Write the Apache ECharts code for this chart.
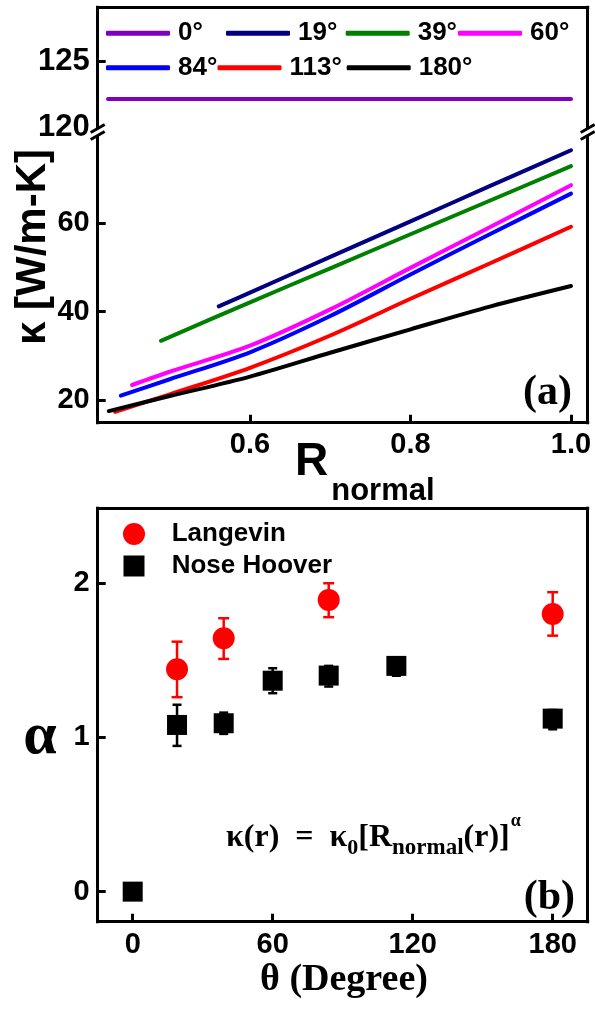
<!DOCTYPE html>
<html><head><meta charset="utf-8">
<script src="https://cdn.jsdelivr.net/npm/echarts@6/dist/echarts.min.js"></script>
<style>html,body{margin:0;padding:0;background:#fff}#c{width:595px;height:1009px}</style>
</head><body><div id="c"></div>
<script>
// ---------------- data ----------------
const angleNames = ['0°','19°','39°','60°','84°','113°','180°'];
const lineColors = ['#7f00bf','#000080','#008000','#ff00ff','#0000ff','#ff0000','#000000'];
// kappa vs R_normal  ([R, kappa])
const kappa0   = [[0.423,122.15],[1.0,122.15]];
const kappa19  = [[0.561,41.2],[0.6,44.3],[0.7,52.4],[0.8,60.4],[0.9,68.5],[1.0,76.5]];
const kappa39  = [[0.489,33.4],[0.6,42.1],[0.7,49.8],[0.8,57.5],[0.9,65.2],[1.0,72.9]];
const kappa60  = [[0.453,23.4],[0.5,26.4],[0.6,32.3],[0.7,40.5],[0.8,49.9],[0.9,59.2],[1.0,68.6]];
const kappa84  = [[0.439,21.0],[0.5,24.7],[0.6,30.8],[0.7,39.0],[0.8,48.4],[0.9,57.6],[1.0,66.7]];
const kappa113 = [[0.432,17.3],[0.5,21.3],[0.6,27.3],[0.7,34.6],[0.8,42.9],[0.9,51.0],[1.0,59.2]];
const kappa180 = [[0.424,17.5],[0.5,20.9],[0.6,25.3],[0.7,30.7],[0.8,36.0],[0.9,41.2],[1.0,45.8]];
const kappaSeries = [kappa0,kappa19,kappa39,kappa60,kappa84,kappa113,kappa180];

// alpha vs theta
const thetaLangevin   = [19, 39, 84, 180];
const alphaLangevin   = [1.442, 1.643, 1.892, 1.801];
const alphaLangevinLo = [1.261, 1.509, 1.780, 1.660];
const alphaLangevinHi = [1.621, 1.773, 2.000, 1.942];
const thetaNH   = [0, 19, 39, 60, 84, 113, 180];
const alphaNH   = [0, 1.081, 1.092, 1.368, 1.401, 1.464, 1.122];
const alphaNHLo = [0, 0.945, 1.023, 1.287, 1.330, 1.400, 1.053];
const alphaNHHi = [0, 1.212, 1.161, 1.449, 1.464, 1.520, 1.178];

// tick labels
const xTicksTop    = [0.6, 0.8, 1.0];
const yTicksUpper  = [120, 125];
const yTicksLower  = [20, 40, 60];
const xTicksBottom = [0, 60, 120, 180];
const yTicksBottom = [0, 1, 2];

// ---------------- helpers ----------------
const SANS = '"Liberation Sans", Arial, sans-serif';
const SERIF = '"Liberation Serif", "Times New Roman", serif';
const mctx = document.createElement('canvas').getContext('2d');
function tw(text, font){ mctx.font = font; return mctx.measureText(text).width; }
function runText(x0, pieces, family){
  const out = []; let x = x0;
  pieces.forEach(p => {
    const font = 'bold ' + p.size + 'px ' + family;
    out.push({type:'text', z:50, style:{text:p.t, x:x, y:p.base - 0.34*p.size, font:font, fill:'#000',
      textAlign:'left', textVerticalAlign:'middle', verticalAlign:'middle', lineHeight:p.size}});
    x += tw(p.t, font) + (p.gap || 0);
  });
  return out;
}
const AX = {onZero:false, lineStyle:{color:'#000', width:3, cap:'square'}};
function lab(size, fmt, vals){
  return {show:true, customValues:vals, formatter:fmt, color:'#000', fontFamily:SANS, fontWeight:'bold',
          fontSize:size, lineHeight:size, margin:8};
}
function tick(vals){ return {show:true, inside:true, length:8, customValues:vals, lineStyle:{color:'#000', width:3}}; }
const NOAX = {axisTick:{show:false}, axisLabel:{show:false}, splitLine:{show:false}};

const gL = 97.7, gW = 490;
const R_MIN = 0.4102, R_MAX = 1.0208;

// ---------------- axes ----------------
const xAxis = [
  Object.assign({type:'value', gridIndex:0, min:R_MIN, max:R_MAX, position:'top', axisLine:AX}, NOAX),
  {type:'value', gridIndex:1, min:R_MIN, max:R_MAX, position:'bottom', axisLine:AX,
   axisTick:tick(xTicksTop), axisLabel:lab(29, v => v.toFixed(1), xTicksTop), splitLine:{show:false}},
  {type:'value', gridIndex:2, min:-15, max:195, position:'bottom', axisLine:AX,
   axisTick:tick(xTicksBottom), axisLabel:Object.assign(lab(29, v => String(v), xTicksBottom), {margin:9}), splitLine:{show:false}},
  Object.assign({type:'value', gridIndex:2, min:-15, max:195, position:'top', axisLine:AX}, NOAX)
];
const yAxis = [
  {type:'value', gridIndex:0, min:119.69, max:129.17, position:'left', axisLine:AX,
   axisTick:tick([125]), axisLabel:lab(31, v => String(v), yTicksUpper), splitLine:{show:false}},
  Object.assign({type:'value', gridIndex:0, min:119.69, max:129.17, position:'right', axisLine:AX}, NOAX),
  {type:'value', gridIndex:1, min:14.87, max:80.86, position:'left', axisLine:AX,
   axisTick:tick(yTicksLower), axisLabel:lab(29, v => String(v), yTicksLower), splitLine:{show:false}},
  Object.assign({type:'value', gridIndex:1, min:14.87, max:80.86, position:'right', axisLine:AX}, NOAX),
  {type:'value', gridIndex:2, min:-0.195, max:2.486, position:'left', axisLine:AX,
   axisTick:tick(yTicksBottom), axisLabel:lab(29, v => String(v), yTicksBottom), splitLine:{show:false}},
  Object.assign({type:'value', gridIndex:2, min:-0.195, max:2.486, position:'right', axisLine:AX}, NOAX)
];

// ---------------- series ----------------
const series = [];
kappaSeries.forEach((d, i) => {
  series.push({type:'line', name:angleNames[i], xAxisIndex:i===0?0:1, yAxisIndex:i===0?0:2, data:d,
    showSymbol:false, symbol:'none', smooth:0.3, color:lineColors[i],
    lineStyle:{color:lineColors[i], width:4, cap:'round', join:'round'}, z:5});
});
function errRender(capW, color){
  return function(params, api){
    const x = api.value(0), lo = api.value(1), hi = api.value(2);
    const a = api.coord([x, lo]), b = api.coord([x, hi]);
    const st = {stroke:color, lineWidth:2.5};
    return {type:'group', children:[
      {type:'line', shape:{x1:a[0], y1:a[1], x2:b[0], y2:b[1]}, style:st},
      {type:'line', shape:{x1:b[0]-capW/2, y1:b[1], x2:b[0]+capW/2, y2:b[1]}, style:st},
      {type:'line', shape:{x1:a[0]-capW/2, y1:a[1], x2:a[0]+capW/2, y2:a[1]}, style:st}
    ]};
  };
}
series.push({type:'custom', name:'errL', xAxisIndex:2, yAxisIndex:4, renderItem:errRender(11,'#ff0000'),
  encode:{x:0, y:[1,2]}, data:thetaLangevin.map((t,i)=>[t, alphaLangevinLo[i], alphaLangevinHi[i]]), z:3});
series.push({type:'custom', name:'errNH', xAxisIndex:2, yAxisIndex:4, renderItem:errRender(9,'#000000'),
  encode:{x:0, y:[1,2]}, data:thetaNH.map((t,i)=>[t, alphaNHLo[i], alphaNHHi[i]]).filter(d => d[2] > d[1]), z:3});
series.push({type:'scatter', name:'Langevin', xAxisIndex:2, yAxisIndex:4, symbol:'circle', symbolSize:22,
  itemStyle:{color:'#ff0000', opacity:1}, color:'#ff0000', data:thetaLangevin.map((t,i)=>[t, alphaLangevin[i]]), z:6});
series.push({type:'scatter', name:'Nose Hoover', xAxisIndex:2, yAxisIndex:4, symbol:'rect', symbolSize:20,
  itemStyle:{color:'#000000', opacity:1}, color:'#000000', data:thetaNH.map((t,i)=>[t, alphaNH[i]]), z:6});

// ---------------- legends ----------------
const legPos = [[106,20.3],[226,20.3],[345.7,20.3],[458,20.3],[106,54.7],[217.5,54.7],[346.7,54.7]];
const legend = angleNames.map((n, i) => ({
  data:[n], left:legPos[i][0], top:legPos[i][1], padding:0, itemGap:0, itemWidth:64, itemHeight:5,
  icon:'roundRect', selectedMode:false,
  textStyle:{color:'#000', fontFamily:SANS, fontWeight:'bold', fontSize:26, lineHeight:26, padding:[0,0,0,3]}
}));
legend.push({data:['Langevin'], left:123, top:521, padding:0, itemWidth:22, itemHeight:22, icon:'circle', selectedMode:false,
  itemStyle:{opacity:1},
  textStyle:{color:'#000', fontFamily:SANS, fontWeight:'bold', fontSize:26, lineHeight:26, padding:[0,0,0,21.7]}});
legend.push({data:['Nose Hoover'], left:123.5, top:553, padding:0, itemWidth:21, itemHeight:21, icon:'rect', selectedMode:false,
  itemStyle:{opacity:1},
  textStyle:{color:'#000', fontFamily:SANS, fontWeight:'bold', fontSize:26, lineHeight:26, padding:[0,0,0,22.2]}});

// ---------------- graphic (titles, labels, break marks) ----------------
const graphic = [];
[gL, gL + gW].forEach(x => {
  graphic.push({type:'rect', z:60, shape:{x:x-6, y:128.5, width:12, height:7}, style:{fill:'#fff'}});
  graphic.push({type:'line', z:61, shape:{x1:x-7, y1:132.5, x2:x+7, y2:124.5}, style:{stroke:'#000', lineWidth:3}});
  graphic.push({type:'line', z:61, shape:{x1:x-7, y1:139.5, x2:x+7, y2:131.5}, style:{stroke:'#000', lineWidth:3}});
});
graphic.push({type:'text', z:50, x:33, y:247, rotation:Math.PI/2,
  style:{text:'κ [W/m-K]', x:0, y:0, font:'bold 42px ' + SANS, fill:'#000', textAlign:'center', textVerticalAlign:'middle', verticalAlign:'middle', lineHeight:42}});
graphic.push.apply(graphic, runText(295, [{t:'R', size:46, base:478, gap:3}, {t:'normal', size:31, base:501.5}], SANS));
graphic.push({type:'text', z:50, style:{text:'(a)', x:572, y:393, font:'bold 42px ' + SERIF, fill:'#000', textAlign:'right', textVerticalAlign:'middle', verticalAlign:'middle', lineHeight:42}});
graphic.push({type:'text', z:50, style:{text:'(b)', x:575, y:898, font:'bold 42px ' + SERIF, fill:'#000', textAlign:'right', textVerticalAlign:'middle', verticalAlign:'middle', lineHeight:42}});
graphic.push({type:'text', z:50, style:{text:'α', x:40, y:737, font:'bold 60px ' + SERIF, fill:'#000', textAlign:'center', textVerticalAlign:'middle', verticalAlign:'middle', lineHeight:60}});
graphic.push({type:'text', z:50, style:{text:'θ (Degree)', x:344, y:980.5, font:'bold 38px ' + SERIF, fill:'#000', textAlign:'center', textVerticalAlign:'middle', verticalAlign:'middle', lineHeight:38}});
graphic.push.apply(graphic, runText(226, [
  {t:'κ(r)  =  κ', size:32, base:849},
  {t:'0', size:22, base:856},
  {t:'[R', size:32, base:849},
  {t:'normal', size:23, base:856},
  {t:'(r)]', size:32, base:849, gap:1},
  {t:'α', size:18, base:827}
], SERIF));

const chart = echarts.init(document.getElementById('c'), null, {renderer:'canvas', width:595, height:1009});
chart.setOption({
  animation:false,
  backgroundColor:'#fff',
  grid:[
    {left:gL, width:gW, top:7.3, height:123.7, containLabel:false, outerBoundsMode:'none'},
    {left:gL, width:gW, top:131, height:291.7, containLabel:false, outerBoundsMode:'none'},
    {left:gL, width:gW, top:508.3, height:413.4, containLabel:false, outerBoundsMode:'none'}
  ],
  xAxis:xAxis, yAxis:yAxis, series:series, legend:legend, graphic:graphic
});
</script></body></html>
